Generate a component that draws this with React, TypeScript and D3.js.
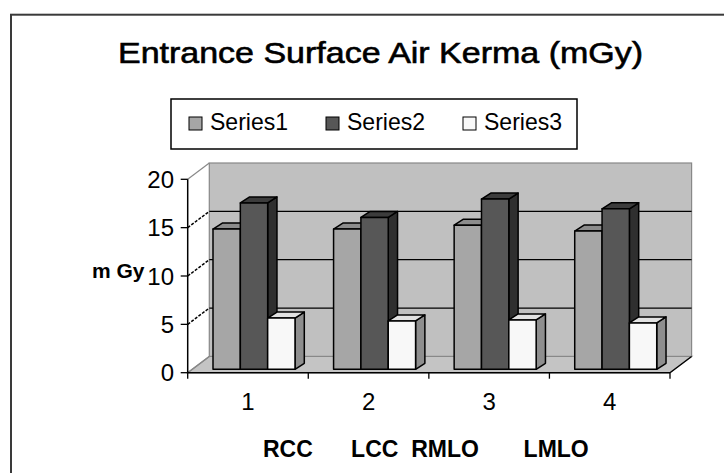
import { scaleBand, scaleLinear } from "d3";

// chart data
const categories = ["1", "2", "3", "4"];
const seriesNames = ["Series1", "Series2", "Series3"];
const series1 = [14.5, 14.5, 14.9, 14.3];
const series2 = [17.2, 15.7, 17.6, 16.6];
const series3 = [5.3, 5.0, 5.1, 4.8];
const yTicks = [0, 5, 10, 15, 20];
const title = "Entrance Surface Air Kerma (mGy)";
const yTitle = "m Gy";
const xTitle = "RCC      LCC  RMLO       LMLO";

const WIDTH = 724;
const HEIGHT = 473;
const PLOT = { left: 187.7, right: 670, top: 179.3, bottom: 372.7 };
// oblique offset of the back wall
const DX = 21.6;
const DY = -16.3;
// front face of the columns sits a little way into the floor
const FRONT_DX = 25.3;
const FRONT_DY = -3.4;
const GROUP_W = 82;
const CAP_DX = 9.3;
const CAP_DY = -6;

const faces = [
  { front: "#a6a6a6", top: "#8c8c8c", side: "#777777" },
  { front: "#575757", top: "#3c3c3c", side: "#2f2f2f" },
  { front: "#f8f8f8", top: "#e2e2e2", side: "#8e8e8e" },
];

const FONT = "'Liberation Sans', Arial, sans-serif";

export default function App() {
  const values = [series1, series2, series3];

  const x = scaleBand<string>().domain(categories).range([PLOT.left, PLOT.right]);
  const inner = scaleBand<number>().domain(seriesNames.map((_, i) => i)).range([0, GROUP_W]);
  const y = scaleLinear().domain([0, 20]).range([PLOT.bottom, PLOT.top]);

  const bw = inner.bandwidth();
  const backL = PLOT.left + DX;
  const backR = PLOT.right + DX;
  const floorY = y(0);

  const legendStep = 137;
  const legendX0 = 189;

  return (
    <svg
      width={WIDTH}
      height={HEIGHT}
      viewBox={`0 0 ${WIDTH} ${HEIGHT}`}
      style={{ position: "absolute", left: 0, top: 0, background: "#fff" }}
      fontFamily={FONT}
    >
      {/* outer chart border, runs off the right and bottom */}
      <rect x={11} y={14.7} width={WIDTH + 20} height={HEIGHT + 20} fill="#fff" stroke="#3a3a3a" strokeWidth={2} />

      <text
        x={118}
        y={63}
        fontSize={29}
        fill="#000"
        stroke="#000"
        strokeWidth={0.6}
        textLength={525}
        lengthAdjust="spacingAndGlyphs"
      >
        {title}
      </text>

      {/* Legend */}
      <rect x={171} y={99} width={406} height={50} fill="#fff" stroke="#000" strokeWidth={1.5} />
      {seriesNames.map((s, i) => (
        <g key={s}>
          <rect x={legendX0 + i * legendStep} y={117} width={13} height={13} fill={faces[i].front} stroke="#000" strokeWidth={1} />
          <text
            x={legendX0 + i * legendStep + 21}
            y={130}
            fontSize={24}
            textLength={78}
            lengthAdjust="spacingAndGlyphs"
          >
            {s}
          </text>
        </g>
      ))}

      {/* left side wall */}
      <polygon
        points={`${PLOT.left},${y(20)} ${backL},${y(20) + DY} ${backL},${floorY + DY} ${PLOT.left},${floorY}`}
        fill="#fff"
        stroke="none"
      />
      {/* floor */}
      <polygon
        points={`${PLOT.left},${floorY} ${PLOT.right},${floorY} ${backR},${floorY + DY} ${backL},${floorY + DY}`}
        fill="#c4c4c4"
        stroke="#888"
        strokeWidth={1.2}
      />
      {/* back wall */}
      <rect x={backL} y={y(20) + DY} width={backR - backL} height={floorY - y(20)} fill="#c0c0c0" stroke="#888" strokeWidth={1.2} />

      {/* gridlines */}
      {yTicks.map((t) => {
        const edge = t === 0 || t === 20;
        return (
          <g key={t}>
            {!edge && (
              <line x1={backL} x2={backR} y1={y(t) + DY} y2={y(t) + DY} stroke="#000" strokeWidth={1.3} />
            )}
            <line
              x1={PLOT.left}
              y1={y(t)}
              x2={backL}
              y2={y(t) + DY}
              stroke={edge ? "#888" : "#000"}
              strokeWidth={edge ? 1.2 : 1.5}
              strokeDasharray={edge ? undefined : "3 1.5"}
            />
            <line x1={PLOT.left - 7} x2={PLOT.left} y1={y(t)} y2={y(t)} stroke="#000" strokeWidth={1.3} />
            <text x={174} y={y(t)} dy="0.36em" textAnchor="end" fontSize={24} fill="#000">
              {t}
            </text>
          </g>
        );
      })}

      {/* Bars */}
      {categories.map((c, ci) => {
        const gx = (x(c) ?? 0) + FRONT_DX;
        return (
          <g key={c}>
            {values.map((vals, si) => {
              const x0 = gx + (inner(si) ?? 0);
              const x1 = x0 + bw;
              const yTop = y(vals[ci]) + FRONT_DY;
              const yBot = floorY + FRONT_DY;
              const f = faces[si];
              return (
                <g key={si} stroke="#000" strokeWidth={1.5} strokeLinejoin="round">
                  <polygon
                    points={`${x1},${yTop} ${x1 + CAP_DX},${yTop + CAP_DY} ${x1 + CAP_DX},${yBot + CAP_DY} ${x1},${yBot}`}
                    fill={f.side}
                  />
                  <polygon
                    points={`${x0},${yTop} ${x0 + CAP_DX},${yTop + CAP_DY} ${x1 + CAP_DX},${yTop + CAP_DY} ${x1},${yTop}`}
                    fill={f.top}
                  />
                  <rect x={x0} y={yTop} width={bw} height={yBot - yTop} fill={f.front} />
                </g>
              );
            })}
          </g>
        );
      })}

      {/* axes */}
      <line x1={PLOT.left} x2={PLOT.left} y1={y(20)} y2={floorY} stroke="#000" strokeWidth={1.5} />
      <line x1={PLOT.left} x2={PLOT.right} y1={floorY} y2={floorY} stroke="#000" strokeWidth={1.5} />
      <line x1={PLOT.right} y1={floorY} x2={backR} y2={floorY + DY} stroke="#000" strokeWidth={1.3} />
      {[...categories.map((c) => x(c) ?? 0), PLOT.right].map((tx, i) => (
        <line key={i} x1={tx} x2={tx} y1={floorY} y2={floorY + 6} stroke="#000" strokeWidth={1.3} />
      ))}
      {categories.map((c) => (
        <text key={c} x={(x(c) ?? 0) + x.bandwidth() / 2} y={410} textAnchor="middle" fontSize={24} fill="#000">
          {c}
        </text>
      ))}

      <text x={92} y={278} fontSize={21} fontWeight="bold" fill="#000">
        {yTitle}
      </text>
      <text
        x={(PLOT.left + PLOT.right) / 2 - 3}
        y={457}
        textAnchor="middle"
        fontSize={23}
        fontWeight="bold"
        fill="#000"
        style={{ whiteSpace: "pre" }}
      >
        {xTitle}
      </text>
    </svg>
  );
}
